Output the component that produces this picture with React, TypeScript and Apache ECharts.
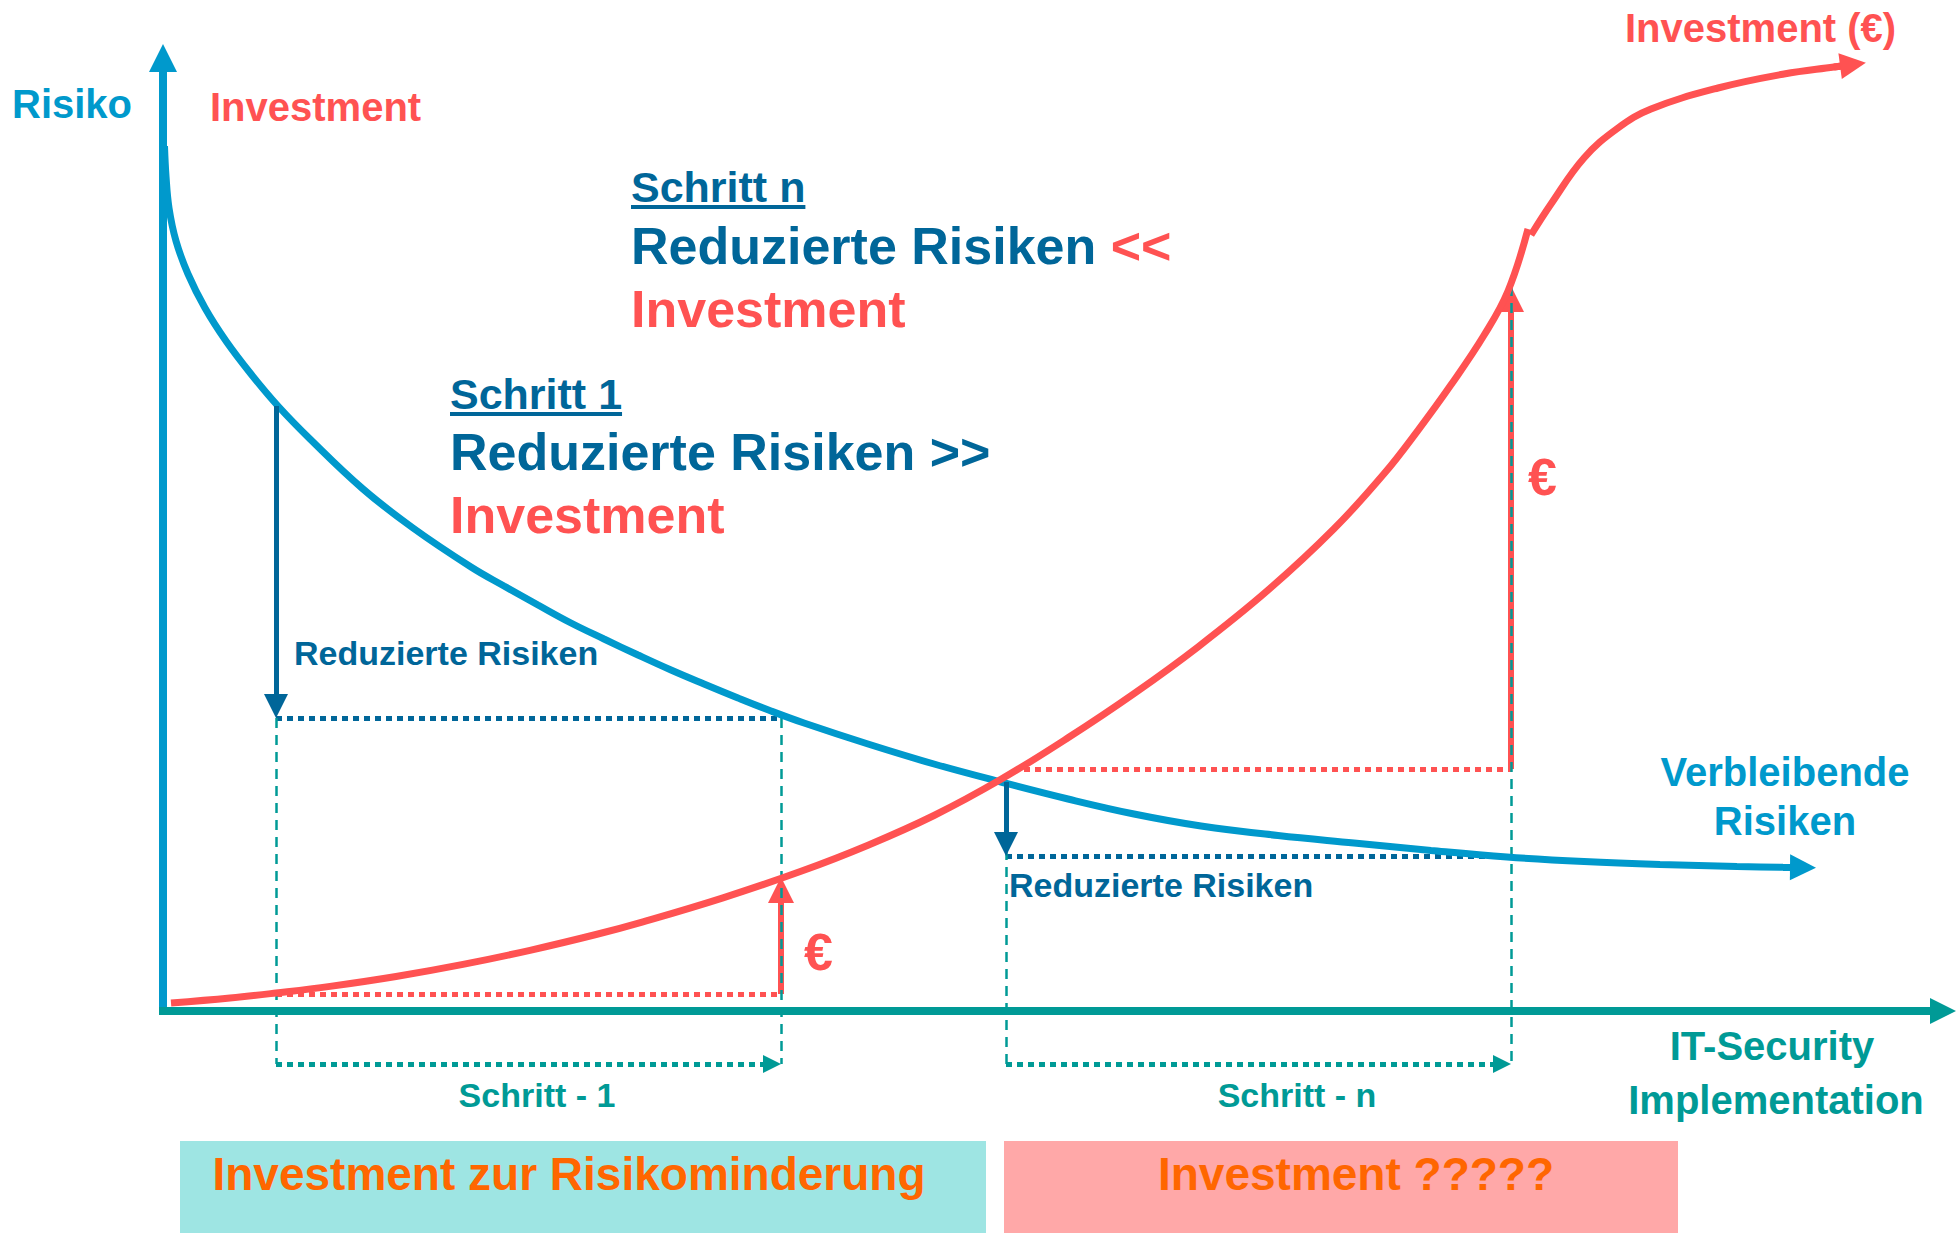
import React, { useEffect, useRef } from "react";
import * as echarts from "echarts";

const W = 1960;
const H = 1233;

// ---- data (x: IT-security implementation effort, y: risk / investment level) ----
const riskCurve: number[][] = [
  [1.5, 865], [3, 835], [6, 803], [13, 770], [25, 737], [42, 703], [63, 670],
  [88, 637], [115, 605], [147, 572], [200, 522], [250, 483], [308, 444],
  [341, 425], [375, 406], [408, 388], [441, 372], [475, 356], [508, 341],
  [541, 327], [575, 313], [608, 300], [641, 288], [705, 267], [771, 247],
  [838, 229], [905, 212], [971, 197], [1038, 185], [1115, 175.5], [1191, 168],
  [1268, 160.5], [1344, 154], [1421, 149.5], [1497, 146.5], [1574, 144.5],
  [1620, 143.7], [1640, 143.5],
];
// investment curve, drawn in two pieces (as in the original drawing)
const investCurveA: number[][] = [
  [8, 8], [67, 13], [113, 18], [167, 24.6], [233, 34.5], [300, 46.6], [367, 60.7],
  [433, 76.5], [480, 89.2], [560, 113.2], [638, 139.7], [705, 165.8], [771, 195.5],
  [838, 231.7], [905, 273.2], [971, 317.4], [1035, 364.1], [1105, 420.8],
  [1171, 482.2], [1221, 537.2], [1255, 580.7], [1288, 626.2], [1321, 675.7],
  [1345, 720], [1365, 782],
];
const investCurveB: number[][] = [
  [1368, 776], [1388, 807], [1421, 853], [1455, 883], [1488, 902], [1555, 923],
  [1621, 937], [1671, 944], [1690, 946.5],
];
// step boundaries on the x axis
const stepX = [113, 618, 843, 1348];
// risk levels before / after each step
const riskBefore = [605, 229];
const riskAfter = [293, 155];
// investment levels before / after each step
const investBefore = [17, 242];
const investAfter = [134, 725];
const stepArrowY = -53;

const axisTitles = ["Risiko", "Investment", "Investment (€)"];
const xTitle = ["IT-Security", "Implementation"];
const curveTitle = ["Verbleibende", "Risiken"];
const stepLabels = ["Schritt - 1", "Schritt - n"];
const stepHeads = ["Schritt 1", "Schritt n"];
const stepTexts = ["Reduzierte Risiken", ">>", "<<", "Investment"];
const smallLabel = "Reduzierte Risiken";
const euro = "€";
const boxTexts = ["Investment zur Risikominderung", "Investment ?????"];

// ---- styles ----
const BLUE = "#0099CC";
const DARK = "#006699";
const RED = "#FF5252";
const TEAL = "#009A96";
const ORANGE = "#FF6600";
const FONT = '"Liberation Sans", Arial, Helvetica, sans-serif';
const font = (s: number) => `bold ${s}px ${FONT}`;

function measure(text: string, size: number) {
  const c = document.createElement("canvas").getContext("2d")!;
  c.font = font(size);
  return c.measureText(text).width;
}

function seg(a: number[], b: number[]) {
  return { coords: [a, b] };
}

export default function App() {
  const ref = useRef<HTMLDivElement>(null);
  useEffect(() => {
    const chart = echarts.init(ref.current!, undefined, { renderer: "svg" });

    const linesSeries = (
      data: any[],
      color: string,
      width: number,
      type: any,
      arrow: boolean,
      size: number[] = [20, 22],
      z = 2
    ) => ({
      type: "lines",
      coordinateSystem: "cartesian2d",
      clip: false,
      silent: true,
      z,
      symbol: arrow ? ["none", "triangle"] : ["none", "none"],
      symbolSize: size,
      lineStyle: { color, width, type, opacity: 1, cap: "butt" },
      data,
    });

    const curve = (data: number[][], color: string) => ({
      type: "line",
      z: 4,
      clip: false,
      silent: true,
      showSymbol: false,
      smooth: 0.4,
      data,
      lineStyle: { color, width: 7 },
    });

    const txt = (text: string, x: number, y: number, size: number, fill: string, align = "left") => ({
      type: "text",
      x,
      y,
      z: 20,
      style: { text, fill, font: font(size), textAlign: align, textVerticalAlign: "middle" },
    });

    const headW = stepHeads.map((t) => measure(t, 43));
    const rEnd = riskCurve.length;
    const iEnd = investCurveB.length;

    const option: any = {
      animation: false,
      backgroundColor: "#ffffff",
      grid: { left: 163, right: 0, top: 0, bottom: 0 },
      xAxis: { type: "value", min: 0, max: 1797, show: false },
      yAxis: { type: "value", min: -222, max: 1011, show: false },
      series: [
        // dotted reference lines
        linesSeries(
          [seg([stepX[0], riskAfter[0]], [stepX[1], riskAfter[0]]), seg([stepX[2], riskAfter[1]], [stepX[3], riskAfter[1]])],
          DARK, 5, [6, 5], false
        ),
        linesSeries(
          [seg([stepX[0], investBefore[0]], [stepX[1], investBefore[0]]), seg([stepX[2] + 18, investBefore[1]], [stepX[3], investBefore[1]])],
          RED, 5, [6, 5], false
        ),
        // red investment arrows
        linesSeries(
          [seg([stepX[1], investBefore[0]], [stepX[1], investAfter[0] - 13]), seg([stepX[3], investBefore[1]], [stepX[3], investAfter[1] - 13])],
          RED, 6, "solid", true, [24, 26]
        ),
        // teal dashed verticals
        linesSeries(
          [
            seg([stepX[0], riskAfter[0]], [stepX[0], stepArrowY]),
            seg([stepX[1], riskAfter[0]], [stepX[1], stepArrowY]),
            seg([stepX[2], riskBefore[1]], [stepX[2], stepArrowY]),
            seg([stepX[3], investAfter[1]], [stepX[3], stepArrowY]),
          ],
          TEAL, 2.5, [10, 7], false, [1, 1], 3
        ),
        // teal dotted step arrows
        linesSeries(
          [seg([stepX[0], stepArrowY], [stepX[1] - 9, stepArrowY]), seg([stepX[2], stepArrowY], [stepX[3] - 9, stepArrowY])],
          TEAL, 5, [6, 5], true, [18, 18], 3
        ),
        // curves
        curve(riskCurve, BLUE),
        curve(investCurveA, RED),
        curve(investCurveB, RED),
        // curve arrowheads
        linesSeries([seg(riskCurve[rEnd - 2], riskCurve[rEnd - 1])], BLUE, 7, "solid", true, [26, 26], 5),
        linesSeries([seg(investCurveB[iEnd - 2], investCurveB[iEnd - 1])], RED, 7, "solid", true, [26, 26], 5),
        // dark blue risk-reduction arrows
        linesSeries(
          [seg([stepX[0], riskBefore[0]], [stepX[0], riskAfter[0] + 12]), seg([stepX[2], riskBefore[1]], [stepX[2], riskAfter[1] + 12])],
          DARK, 5, "solid", true, [20, 24], 6
        ),
        // axes
        linesSeries([seg([0, -3], [0, 953])], BLUE, 8, "solid", true, [26, 28], 7),
        linesSeries([seg([-4, 0], [1780, 0])], TEAL, 8, "solid", true, [30, 26], 7),
      ],
      graphic: [
        { type: "rect", shape: { x: 180, y: 1141, width: 806, height: 92 }, style: { fill: "#9EE5E3" }, z: 1 },
        { type: "rect", shape: { x: 1004, y: 1141, width: 674, height: 92 }, style: { fill: "#FFA8A8" }, z: 1 },
        txt(boxTexts[0], 569, 1174, 46, ORANGE, "center"),
        txt(boxTexts[1], 1356, 1174, 46, ORANGE, "center"),

        txt(axisTitles[0], 12, 104, 40, BLUE),
        txt(axisTitles[1], 210, 107, 40, RED),
        txt(axisTitles[2], 1625, 28, 40, RED),

        txt(stepHeads[1], 631, 187, 43, DARK),
        { type: "rect", shape: { x: 631, y: 205, width: headW[1], height: 4 }, style: { fill: DARK }, z: 20 },
        {
          type: "text",
          x: 631,
          y: 246,
          z: 20,
          style: {
            text: `{a|${stepTexts[0]}} {b|${stepTexts[2]}}`,
            font: font(52),
            textVerticalAlign: "middle",
            rich: { a: { fill: DARK, font: font(52) }, b: { fill: RED, font: font(52) } },
          },
        },
        txt(stepTexts[3], 631, 309, 52, RED),

        txt(stepHeads[0], 450, 394, 43, DARK),
        { type: "rect", shape: { x: 450, y: 412, width: headW[0], height: 4 }, style: { fill: DARK }, z: 20 },
        txt(`${stepTexts[0]} ${stepTexts[1]}`, 450, 452, 52, DARK),
        txt(stepTexts[3], 450, 515, 52, RED),

        txt(smallLabel, 294, 653, 34, DARK),
        txt(smallLabel, 1009, 885, 34, DARK),
        txt(euro, 804, 952, 52, RED),
        txt(euro, 1528, 477, 52, RED),

        txt(stepLabels[0], 537, 1095, 34, TEAL, "center"),
        txt(stepLabels[1], 1297, 1095, 34, TEAL, "center"),

        txt(curveTitle[0], 1785, 772, 40, BLUE, "center"),
        txt(curveTitle[1], 1785, 821, 40, BLUE, "center"),
        txt(xTitle[0], 1772, 1046, 40, TEAL, "center"),
        txt(xTitle[1], 1776, 1100, 40, TEAL, "center"),
      ],
    };
    chart.setOption(option);
    return () => chart.dispose();
  }, []);
  return (
    <div
      ref={ref}
      style={{ position: "absolute", left: 0, top: 0, width: W, height: H, background: "#fff" }}
    />
  );
}
